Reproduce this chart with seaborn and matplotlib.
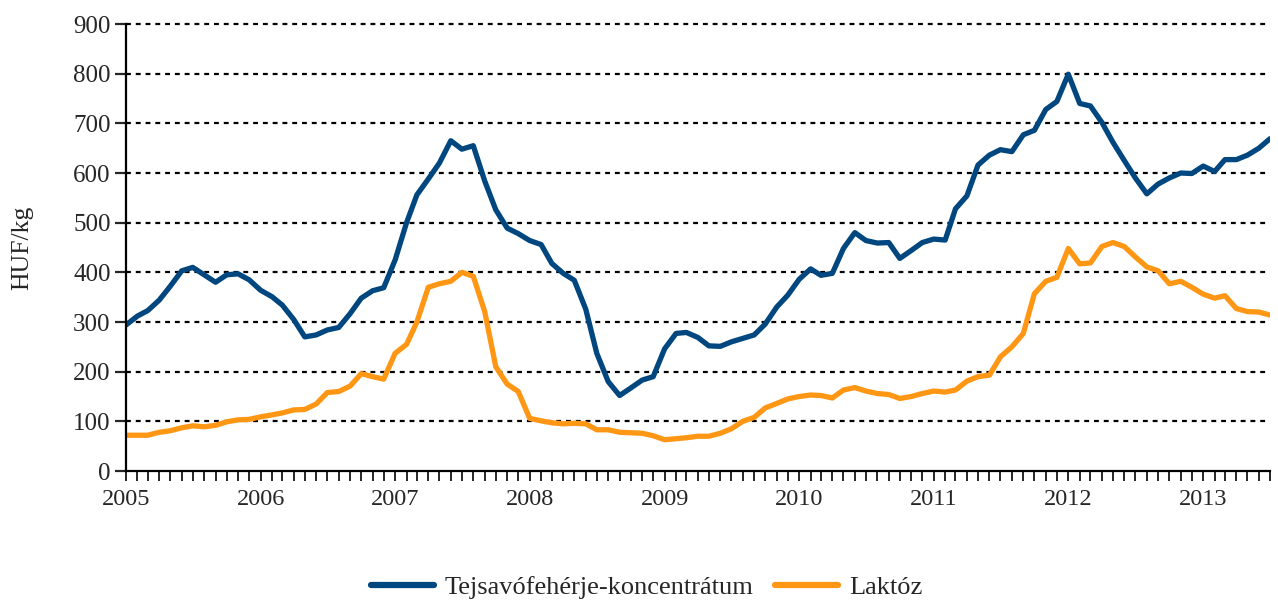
import matplotlib
matplotlib.use("Agg")
import matplotlib.pyplot as plt
import matplotlib.dates as mdates
import numpy as np
import pandas as pd
import seaborn as sns

# monthly prices, Jan 2005 - Jul 2013 (HUF/kg)
months = pd.date_range("2005-01-01", periods=103, freq="MS")

whey = [
    294, 312, 323, 344, 372, 403, 410, 395, 380, 395, 397, 385,
    364, 351, 334, 305, 270, 274, 284, 289, 317, 348, 363, 369,
    425, 500, 556, 588, 620, 665, 648, 655, 584, 526, 489, 478,
    464, 456, 418, 398, 384, 326, 237, 180, 152, 167, 183, 190,
    246, 277, 279, 269, 252, 251, 260, 267, 274, 296, 330, 354,
    386, 407, 394, 398, 448, 480, 464, 459, 460, 428, 444, 460,
    467, 465, 528, 554, 616, 636, 647, 643, 677, 686, 728, 744,
    799, 740, 735, 702, 662, 625, 590, 558, 578, 590, 600, 599,
    614, 603, 627, 627, 636, 650, 669,
]
lactose = [
    72, 72, 72, 78, 81, 87, 91, 89, 92, 99, 103, 104,
    109, 113, 117, 123, 124, 135, 158, 160, 171, 196, 190, 185,
    237, 255, 300, 370, 377, 382, 400, 392, 321, 210, 175, 160,
    106, 101, 97, 95, 96, 95, 83, 83, 78, 77, 76, 71,
    63, 65, 67, 70, 70, 76, 85, 100, 108, 127, 136, 145,
    150, 153, 152, 147, 163, 168, 161, 156, 154, 146, 150, 156,
    161, 159, 163, 181, 190, 193, 230, 250, 277, 357, 382, 390,
    448, 417, 419, 452, 460, 452, 431, 411, 403, 377, 382, 370,
    356, 348, 353, 327, 321, 320, 314,
]
series_names = ["Tejsavófehérje-koncentrátum", "Laktóz"]
colors = ["#00467f", "#ff9614"]

df = pd.DataFrame({"date": months, series_names[0]: whey, series_names[1]: lactose})
long = df.melt(id_vars="date", var_name="termék", value_name="ár")

sns.set_style("white")
plt.rcParams["font.family"] = ["Liberation Serif", "DejaVu Serif"]

fig = plt.figure(figsize=(12.78, 6.02), dpi=100)
ax = fig.add_axes([0.0986, 0.2176, 0.8951, 0.7425])

sns.lineplot(data=long, x="date", y="ár", hue="termék", palette=colors,
             linewidth=3.8, ax=ax, legend=True)

ax.set_ylim(0, 900)
ax.set_xlim(months[0], months[-1])
ax.set_yticks(np.arange(0, 901, 100))
ax.grid(False)
for v in np.arange(100, 901, 100):
    ax.axhline(v, color="black", linewidth=1.6, linestyle=(0, (2.2, 2.2)),
               zorder=0, clip_on=False)

ax.xaxis.set_major_locator(mdates.YearLocator())
ax.xaxis.set_major_formatter(mdates.DateFormatter("%Y"))
ax.xaxis.set_minor_locator(mdates.MonthLocator())

for side in ["top", "right"]:
    ax.spines[side].set_visible(False)
for side in ["left", "bottom"]:
    ax.spines[side].set_color("black")
    ax.spines[side].set_linewidth(1.6)

ax.tick_params(axis="y", which="major", direction="out", length=8, width=1.6,
               labelsize=18, pad=3, left=True)
ax.tick_params(axis="x", which="both", direction="out", length=7, width=1.4,
               bottom=True)
ax.tick_params(axis="x", which="major", labelsize=17.5, pad=6)

ax.set_xlabel("")
ax.set_ylabel("HUF/kg", fontsize=18.5)
ax.yaxis.set_label_coords(-0.081, 0.5)

handles, labels = ax.get_legend_handles_labels()
for h in handles:
    h.set_linewidth(4.5)
ax.get_legend().remove()
fig.legend(handles, labels, loc="center", bbox_to_anchor=(0.506, 0.024),
           ncol=2, frameon=False, fontsize=19, handlelength=2.4,
           columnspacing=0.8, handletextpad=0.4)

fig.savefig("out.png", dpi=100)
